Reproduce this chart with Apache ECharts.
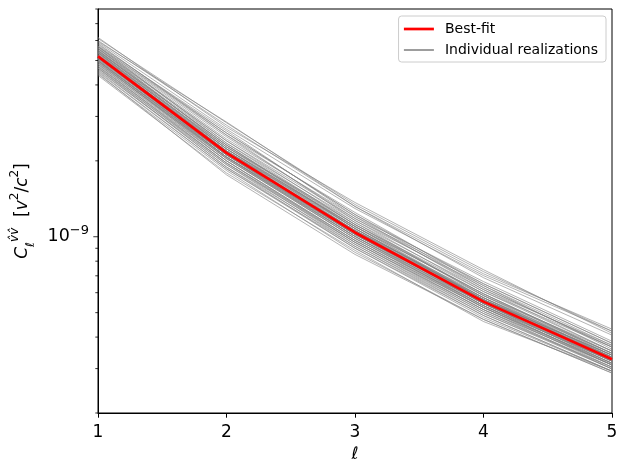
<!DOCTYPE html>
<html>
<head>
<meta charset="utf-8">
<script src="https://cdn.jsdelivr.net/npm/echarts@6/dist/echarts.min.js"></script>
<style>
  html, body { margin: 0; padding: 0; background: #ffffff; }
  #chart { width: 619px; height: 461px; }
</style>
</head>
<body>
<div id="chart"></div>
<script>
// Multipole index
const ell = [1, 2, 3, 4, 5];

// Power spectrum values, in units of 1e-9 (v^2/c^2)
const UNIT = 1e-9;
const bestFit = [5.19, 2.15, 1.04, 0.553, 0.327];

// Individual realizations, same units
const realizations = [
  [6.11, 2.83, 1.342, 0.727, 0.422],
  [6.00, 2.77, 1.318, 0.713, 0.430],
  [6.17, 2.72, 1.367, 0.740, 0.414],
  [5.90, 2.67, 1.294, 0.701, 0.422],
  [5.95, 2.85, 1.318, 0.688, 0.407],
  [5.79, 2.58, 1.225, 0.651, 0.378],
  [5.68, 2.53, 1.248, 0.640, 0.371],
  [5.73, 2.63, 1.203, 0.664, 0.385],
  [5.63, 2.49, 1.181, 0.628, 0.365],
  [5.58, 2.44, 1.203, 0.617, 0.371],
  [5.84, 2.53, 1.160, 0.640, 0.358],
  [5.53, 2.40, 1.181, 0.651, 0.378],
  [5.68, 2.58, 1.225, 0.628, 0.365],
  [5.48, 2.35, 1.160, 0.606, 0.365],
  [5.58, 2.40, 1.139, 0.617, 0.352],
  [5.43, 2.31, 1.118, 0.594, 0.345],
  [5.38, 2.27, 1.139, 0.584, 0.352],
  [5.34, 2.23, 1.098, 0.594, 0.339],
  [5.28, 2.27, 1.078, 0.573, 0.345],
  [5.24, 2.19, 1.098, 0.563, 0.339],
  [5.19, 2.23, 1.059, 0.584, 0.333],
  [5.14, 2.15, 1.059, 0.553, 0.333],
  [5.10, 2.11, 1.040, 0.563, 0.327],
  [5.05, 2.15, 1.021, 0.543, 0.327],
  [5.00, 2.07, 1.021, 0.553, 0.321],
  [4.96, 2.11, 1.003, 0.533, 0.321],
  [4.91, 2.04, 1.003, 0.543, 0.315],
  [4.87, 2.07, 0.985, 0.524, 0.315],
  [5.38, 2.19, 1.040, 0.573, 0.327],
  [5.48, 2.31, 1.078, 0.563, 0.333],
  [5.10, 2.19, 1.078, 0.563, 0.339],
  [5.19, 2.11, 1.021, 0.533, 0.321],
  [5.34, 2.15, 1.059, 0.543, 0.333],
  [5.00, 2.04, 0.985, 0.533, 0.310],
  [5.14, 2.07, 1.040, 0.543, 0.321],
  [5.28, 2.19, 1.059, 0.573, 0.333],
  [5.10, 2.15, 1.040, 0.543, 0.321],
  [5.38, 2.23, 1.078, 0.563, 0.327],
  [5.00, 2.11, 1.021, 0.553, 0.333],
  [5.48, 2.23, 1.098, 0.573, 0.339],
  [4.91, 2.07, 1.003, 0.524, 0.315],
  [5.19, 2.19, 1.040, 0.563, 0.339],
  [5.58, 2.27, 1.118, 0.584, 0.345],
  [4.83, 2.04, 0.985, 0.533, 0.310],
  [5.24, 2.15, 1.021, 0.553, 0.327],
  [5.05, 2.07, 1.003, 0.543, 0.315],
  [5.43, 2.31, 1.098, 0.594, 0.345],
  [4.96, 2.00, 0.967, 0.524, 0.310],
  [5.68, 2.35, 1.118, 0.606, 0.352],
  [4.74, 1.96, 0.950, 0.514, 0.310],
  [5.14, 2.11, 1.059, 0.563, 0.321],
  [4.83, 2.00, 0.967, 0.514, 0.310],
  [4.79, 1.96, 0.967, 0.524, 0.304],
  [4.74, 2.00, 0.950, 0.505, 0.304],
  [4.70, 1.93, 0.950, 0.514, 0.299],
  [4.66, 1.96, 0.933, 0.496, 0.304],
  [4.61, 1.89, 0.933, 0.505, 0.299],
  [4.57, 1.93, 0.916, 0.487, 0.293],
  [4.53, 1.86, 0.916, 0.496, 0.299],
  [4.66, 1.89, 0.900, 0.487, 0.293],
  [4.49, 1.86, 0.900, 0.478, 0.293],
  [4.41, 1.83, 0.867, 0.470, 0.288],
  [4.36, 1.79, 0.883, 0.461, 0.293],
  [4.45, 1.76, 0.851, 0.470, 0.288]
];

// Log-axis tick positions
const majorTickValues = [1e-9];
const minorTickValues = [2e-10, 3e-10, 4e-10, 5e-10, 6e-10, 7e-10, 8e-10, 9e-10,
                         2e-9, 3e-9, 4e-9, 5e-9, 6e-9, 7e-9, 8e-9];

const Y_MIN = 2e-10, Y_MAX = 8e-9;
const FONT = 'DejaVu Sans';

const toPairs = vals => ell.map((x, i) => [x, vals[i] * UNIT]);

const series = [];
realizations.forEach(r => {
  series.push({
    name: 'Individual realizations',
    type: 'line',
    data: toPairs(r),
    symbol: 'none',
    silent: true,
    z: 2,
    lineStyle: { color: '#808080', width: 0.75, opacity: 0.8 }
  });
});
series.push({
  name: 'Best-fit',
  type: 'line',
  data: toPairs(bestFit),
  symbol: 'none',
  silent: true,
  z: 5,
  lineStyle: { color: '#ff0000', width: 2.7 }
});
// y-axis ticks drawn as marks on the log scale at the left edge
series.push({
  name: 'yMajorTicks',
  type: 'scatter',
  data: majorTickValues.map(v => [ell[0], v]),
  symbol: 'rect',
  symbolSize: [4.7, 1],
  symbolOffset: [-2.35, 0],
  itemStyle: { color: '#000' },
  clip: false,
  silent: true,
  z: 6
});
series.push({
  name: 'yMinorTicks',
  type: 'scatter',
  data: minorTickValues.map(v => [ell[0], v]),
  symbol: 'rect',
  symbolSize: [2.7, 1],
  symbolOffset: [-1.35, 0],
  itemStyle: { color: '#000' },
  clip: false,
  silent: true,
  z: 6
});

const chart = echarts.init(document.getElementById('chart'), null, { renderer: 'canvas' });
chart.setOption({
  animation: false,
  backgroundColor: '#ffffff',
  textStyle: { fontFamily: FONT },
  grid: {
    left: 98, right: 7, top: 9, bottom: 48,
    outerBoundsMode: 'none',
    containLabel: false,
    show: true, borderColor: '#000', borderWidth: 1, backgroundColor: 'transparent'
  },
  legend: {
    show: true,
    right: 13,
    top: 16,
    orient: 'vertical',
    itemWidth: 30,
    itemHeight: 14,
    itemGap: 7,
    padding: [6, 8, 5, 4],
    borderColor: '#cccccc',
    borderWidth: 1,
    borderRadius: 3,
    backgroundColor: 'rgba(255,255,255,0.8)',
    textStyle: { fontFamily: FONT, fontSize: 14, color: '#000', padding: [0, 0, 0, 6] },
    data: [
      { name: 'Best-fit', itemStyle: { opacity: 0 },
        lineStyle: { color: '#ff0000', width: 2.7, opacity: 1 } },
      { name: 'Individual realizations', itemStyle: { opacity: 0 },
        lineStyle: { color: '#737373', width: 1.4, opacity: 1 } }
    ]
  },
  xAxis: {
    type: 'value',
    min: 1, max: 5, interval: 1,
    name: 'ℓ',
    nameLocation: 'middle',
    nameGap: 33,
    nameTextStyle: { fontFamily: FONT, fontSize: 17, fontStyle: 'italic', color: '#000' },
    axisLine: { show: true, lineStyle: { color: '#000', width: 1 } },
    axisTick: { show: true, length: 4.7, lineStyle: { color: '#000', width: 1 } },
    axisLabel: { fontFamily: FONT, fontSize: 17, color: '#000', margin: 11 },
    splitLine: { show: false }
  },
  yAxis: {
    type: 'log',
    min: Y_MIN, max: Y_MAX,
    name: '{i|C}{sub|ℓ}{sup|v̂v̂}{n|  [}{i|v}{s2|2}{n|/}{i|c}{s2|2}{n|]}',
    nameLocation: 'middle',
    nameGap: 58,
    nameTextStyle: {
      fontFamily: FONT, fontSize: 17, color: '#000',
      rich: {
        i: { fontFamily: FONT, fontSize: 17, fontStyle: 'italic', lineHeight: 28, verticalAlign: 'middle' },
        n: { fontFamily: FONT, fontSize: 17, lineHeight: 28, verticalAlign: 'middle' },
        sub: { fontFamily: FONT, fontSize: 12, fontStyle: 'italic', lineHeight: 12, verticalAlign: 'bottom' },
        sup: { fontFamily: FONT, fontSize: 12, fontStyle: 'italic', lineHeight: 12, verticalAlign: 'top' },
        s2: { fontFamily: FONT, fontSize: 12, lineHeight: 12, verticalAlign: 'top' }
      }
    },
    axisLine: { show: true, lineStyle: { color: '#000', width: 1 } },
    axisTick: { show: false },
    axisLabel: {
      margin: 9,
      color: '#000',
      formatter: v => (Math.abs(v - majorTickValues[0]) < 1e-13 ? '{b|10}{s|−9}' : ''),
      rich: {
        b: { fontFamily: FONT, fontSize: 17.5, color: '#000', lineHeight: 26, verticalAlign: 'middle' },
        s: { fontFamily: FONT, fontSize: 13, color: '#000', lineHeight: 13, verticalAlign: 'top' }
      }
    },
    splitLine: { show: false },
    minorTick: { show: false }
  },
  series: series
});
</script>
</body>
</html>
